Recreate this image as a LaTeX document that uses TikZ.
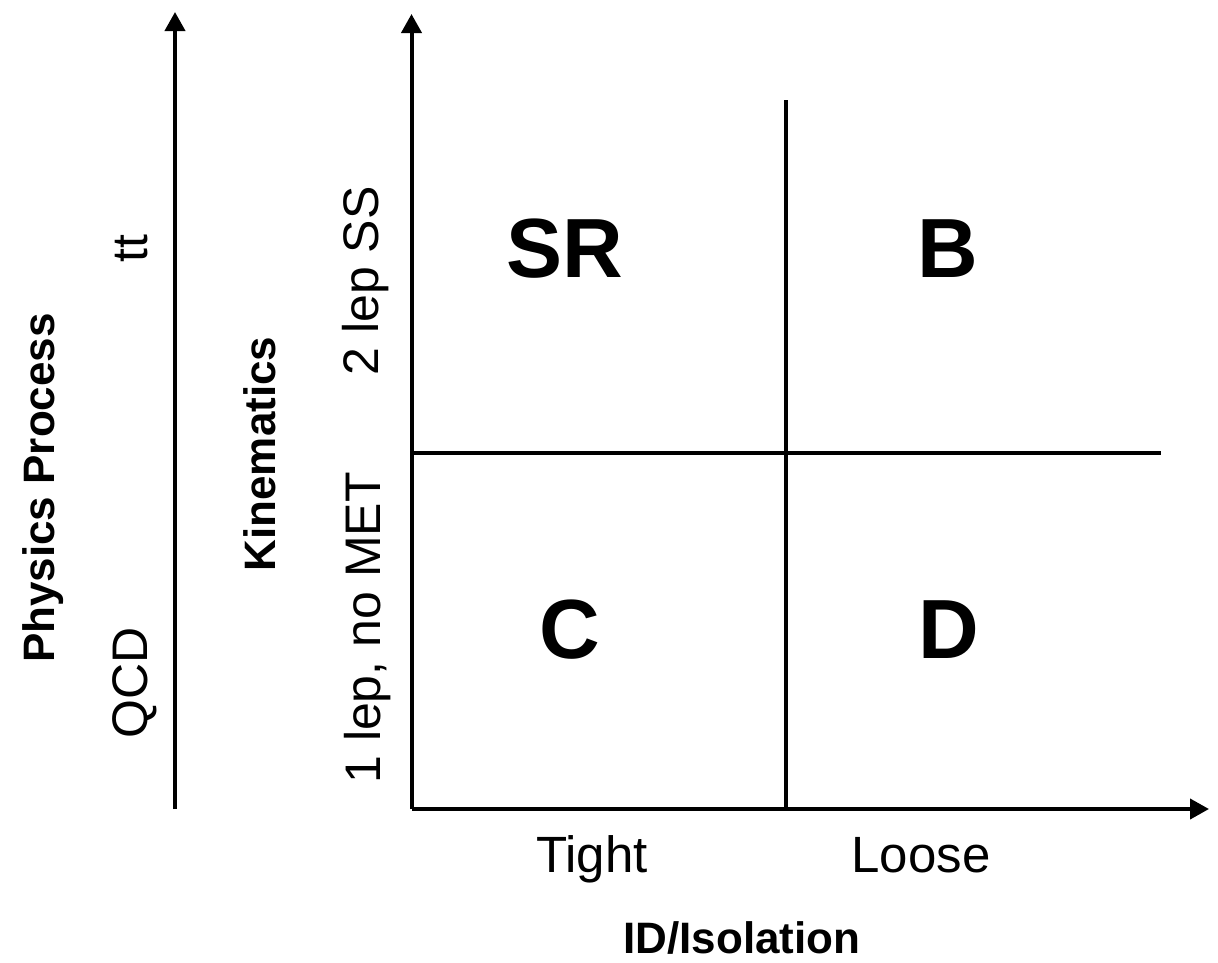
\documentclass[tikz,border=0pt]{standalone}
\usepackage{fontspec}
\setmainfont{Liberation Sans}
\usetikzlibrary{arrows.meta}
\tikzset{
  axis/.style={line width=4pt, -{Triangle[length=19pt,width=20pt]}},
  cut/.style={line width=4pt},
  region/.style={font=\fontsize{84}{90}\selectfont\bfseries, anchor=base, inner sep=0pt},
  tick/.style={font=\fontsize{51}{56}\selectfont, anchor=base, inner sep=0pt},
  vtick/.style={font=\fontsize{50}{56}\selectfont, anchor=base, inner sep=0pt, rotate=90},
  title/.style={font=\fontsize{44}{50}\selectfont\bfseries, anchor=base, inner sep=0pt},
  vtitle/.style={title, rotate=90},
}
\begin{document}
\begin{tikzpicture}[x=1pt, y=-1pt]
  \useasboundingbox (0,0) rectangle (1218,962);

  % axis end points
  \coordinate (pbot) at (175,809);
  \coordinate (ptop) at (175,12);
  \coordinate (origin) at (411.5,809);
  \coordinate (ytop) at (411.5,14);
  \coordinate (xend) at (1209,809);
  \coordinate (vtop) at (786,100);
  \coordinate (vbot) at (786,809);
  \coordinate (hleft) at (411.5,453);
  \coordinate (hright) at (1161,453);

  % physics process axis and the two main axes
  \draw[axis] (pbot) -- (ptop);
  \draw[axis] (origin) -- (ytop);
  \draw[axis] (origin) -- (xend);

  % lines splitting the plane into four regions
  \draw[cut] (vbot) -- (vtop);
  \draw[cut] (hleft) -- (hright);

  % region labels
  \node[region] (sr) at (565,277) {SR};
  \node[region] (b)  at (948,277) {B};
  \node[region] (c)  at (570,658) {C};
  \node[region] (d)  at (949,658) {D};

  % horizontal axis labels
  \node[tick] (tight) at (592,872) {Tight};
  \node[tick] (loose) at (921,872) {Loose};
  \node[title] (idiso) at (742,953) {ID/Isolation};

  % vertical axis labels
  \node[vtick] (ss)  at (378,281) {2 lep SS};
  \node[vtick] (met) at (380,628) {1 lep, no MET};
  \node[vtitle] (kin) at (275,454) {Kinematics};
  \node[vtick] (tt)  at (147,249) {tt};
  \node[vtick] (qcd) at (147,683) {QCD};
  \node[vtitle] (proc) at (54,488) {Physics Process};
\end{tikzpicture}
\end{document}
